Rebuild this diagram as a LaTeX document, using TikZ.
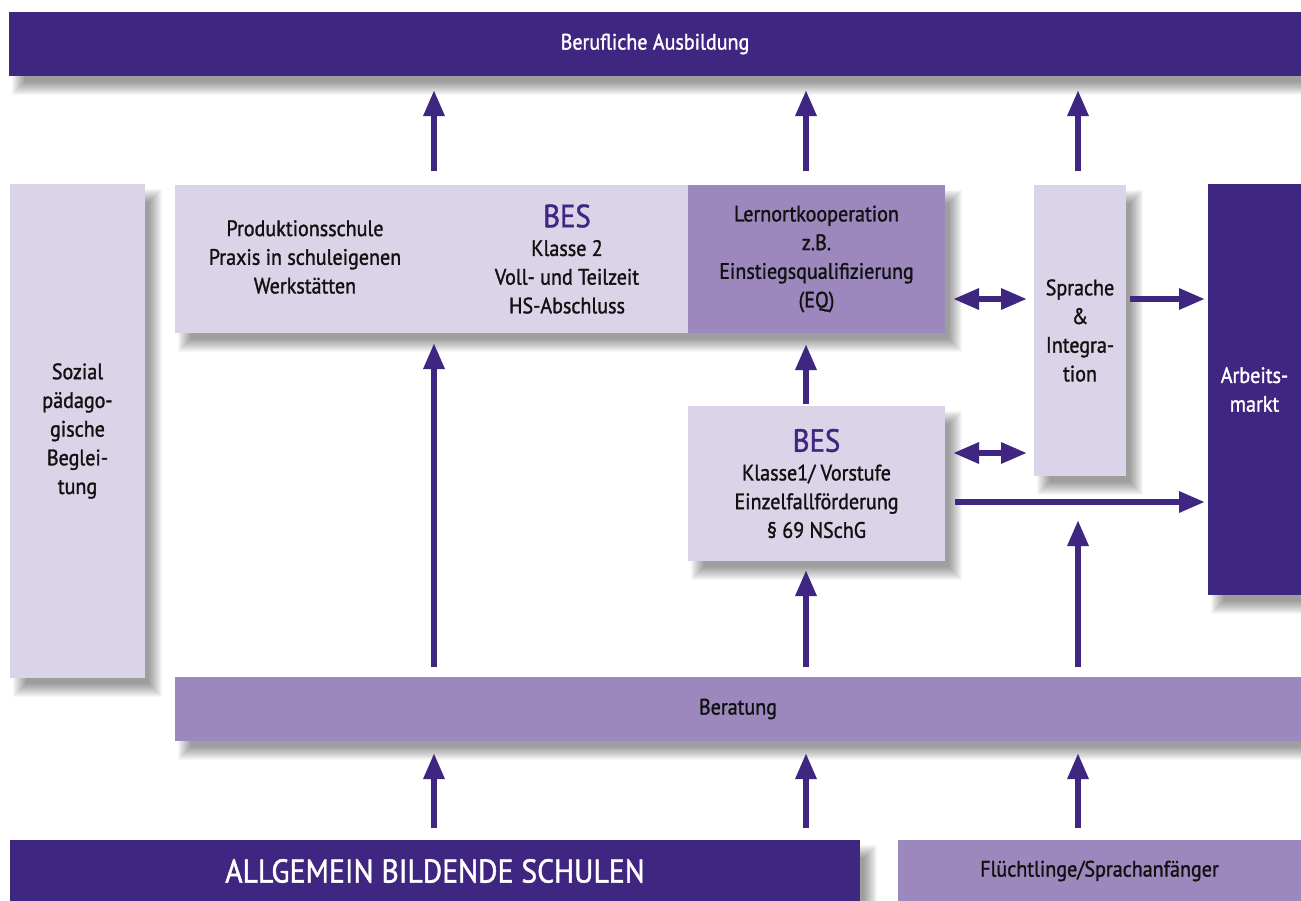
\documentclass[tikz,border=0pt]{standalone}
\usepackage{fontspec}
\setmainfont{PT Sans}[FakeStretch=0.9,FakeBold=1.3]
\usetikzlibrary{arrows.meta}
\definecolor{dk}{HTML}{3F2680}
\definecolor{md}{HTML}{9C88BC}
\definecolor{lt}{HTML}{DBD3E8}
\definecolor{tx}{HTML}{111111}
\newcommand{\bodyf}{\fontsize{22.3}{28.7}\selectfont}
\newcommand{\besf}{\fontsize{32}{34}\selectfont\color{dk}}
\newcommand{\shd}[4]{\foreach \k in {0,...,13}{\fill[black, opacity=0.03] (#1+3+\k,#2+5+\k) rectangle (#3+17-\k,#4+19-\k);}}
\begin{document}
\begin{tikzpicture}[x=1pt,y=-1pt,
  box/.style={rectangle, inner sep=0pt, outer sep=0pt, anchor=north west, align=center,
    font=\bodyf, text=tx},
  dkbox/.style={box, fill=dk, text=white},
  mdbox/.style={box, fill=md},
  ltbox/.style={box, fill=lt},
  txt/.style={inner sep=0pt, align=center, font=\bodyf, text=tx},
  arr/.style={draw=dk, line width=6pt, -{Triangle[length=26pt,width=20pt]}},
  darr/.style={draw=dk, line width=6pt, {Triangle[length=26pt,width=20pt]}-{Triangle[length=26pt,width=20pt]}}
]
\useasboundingbox (0,0) rectangle (1301,900);
\fill[white] (0,0) rectangle (1301,900);

% shadows
\shd{9}{12}{1301}{76}
\shd{10}{184}{145}{678}
\shd{175}{185}{945}{333}
\shd{1034}{185}{1126}{476}
\shd{1208}{184}{1301}{595}
\shd{688}{406}{945}{561}
\shd{175}{677}{1301}{741}
\shd{10}{840}{860}{905}
\shd{898}{840}{1301}{905}

\node[dkbox, minimum width=1292pt, minimum height=64pt] (top) at (9,12) {Berufliche Ausbildung};
\node[ltbox, minimum width=135pt, minimum height=494pt] (soz) at (10,184) {Sozial\\pädago-\\gische\\Beglei-\\tung};
\node[ltbox, minimum width=513pt, minimum height=148pt] (mainL) at (175,185) {};
\node[mdbox, minimum width=257pt, minimum height=148pt] (mainR) at (688,185) {Lernortkooperation\\z.B.\\Einstiegsqualifizierung\\(EQ)};
\node[txt] (prod) at (305,257) {Produktionsschule\\Praxis in schuleigenen\\Werkstätten};
\node[txt] (bes2) at (567,259) {{\besf BES}\\Klasse 2\\Voll- und Teilzeit\\HS-Abschluss};
\node[ltbox, minimum width=92pt, minimum height=291pt] (spr) at (1034,185) {Sprache\\\&\\Integra-\\tion};
\node[dkbox, minimum width=93pt, minimum height=411pt] (arb) at (1208,184) {Arbeits-\\markt};
\node[ltbox, minimum width=257pt, minimum height=155pt] (bes1) at (688,406) {{\besf BES}\\Klasse1/ Vorstufe\\Einzelfallförderung\\§ 69 NSchG};
\node[mdbox, minimum width=1126pt, minimum height=64pt] (ber) at (175,677) {Beratung};
\node[dkbox, minimum width=850pt, minimum height=62pt, font=\fontsize{33}{36}\selectfont] (ags) at (10,840) {ALLGEMEIN BILDENDE SCHULEN};
\node[mdbox, minimum width=403pt, minimum height=62pt] (fl) at (898,840) {Flüchtlinge/Sprachanfänger};

\coordinate (xa) at (434,0);
\coordinate (xb) at (806,0);
\coordinate (xc) at (1078,0);
\coordinate (ya) at (0,299);
\coordinate (yb) at (0,453);
\coordinate (yc) at (0,502);

% up to Berufliche Ausbildung
\draw[arr, shorten <=14pt, shorten >=14pt] (xa |- mainL.north) -- (xa |- top.south);
\draw[arr, shorten <=14pt, shorten >=14pt] (xb |- mainR.north) -- (xb |- top.south);
\draw[arr, shorten <=14pt, shorten >=14pt] (xc |- spr.north) -- (xc |- top.south);
% from Beratung
\draw[arr, shorten <=10pt, shorten >=10pt] (xa |- ber.north) -- (xa |- mainL.south);
\draw[arr, shorten <=10pt, shorten >=9pt] (xb |- ber.north) -- (xb |- bes1.south);
\draw[arr, shorten <=2pt, shorten >=11pt] (xb |- bes1.north) -- (xb |- mainR.south);
\draw[arr, shorten <=10pt, shorten >=44pt] (xc |- ber.north) -- (xc |- spr.south);
% from bottom
\draw[arr, shorten <=12pt, shorten >=12pt] (xa |- ags.north) -- (xa |- ber.south);
\draw[arr, shorten <=12pt, shorten >=12pt] (xb |- ags.north) -- (xb |- ber.south);
\draw[arr, shorten <=12pt, shorten >=12pt] (xc |- fl.north) -- (xc |- ber.south);
% horizontal
\draw[darr, shorten <=8pt, shorten >=7pt] (mainR.east |- ya) -- (spr.west |- ya);
\draw[darr, shorten <=8pt, shorten >=7pt] (bes1.east |- yb) -- (spr.west |- yb);
\draw[arr, shorten <=4pt, shorten >=3pt] (spr.east |- ya) -- (arb.west |- ya);
\draw[arr, shorten <=10pt, shorten >=3pt] (bes1.east |- yc) -- (arb.west |- yc);
\end{tikzpicture}
\end{document}
